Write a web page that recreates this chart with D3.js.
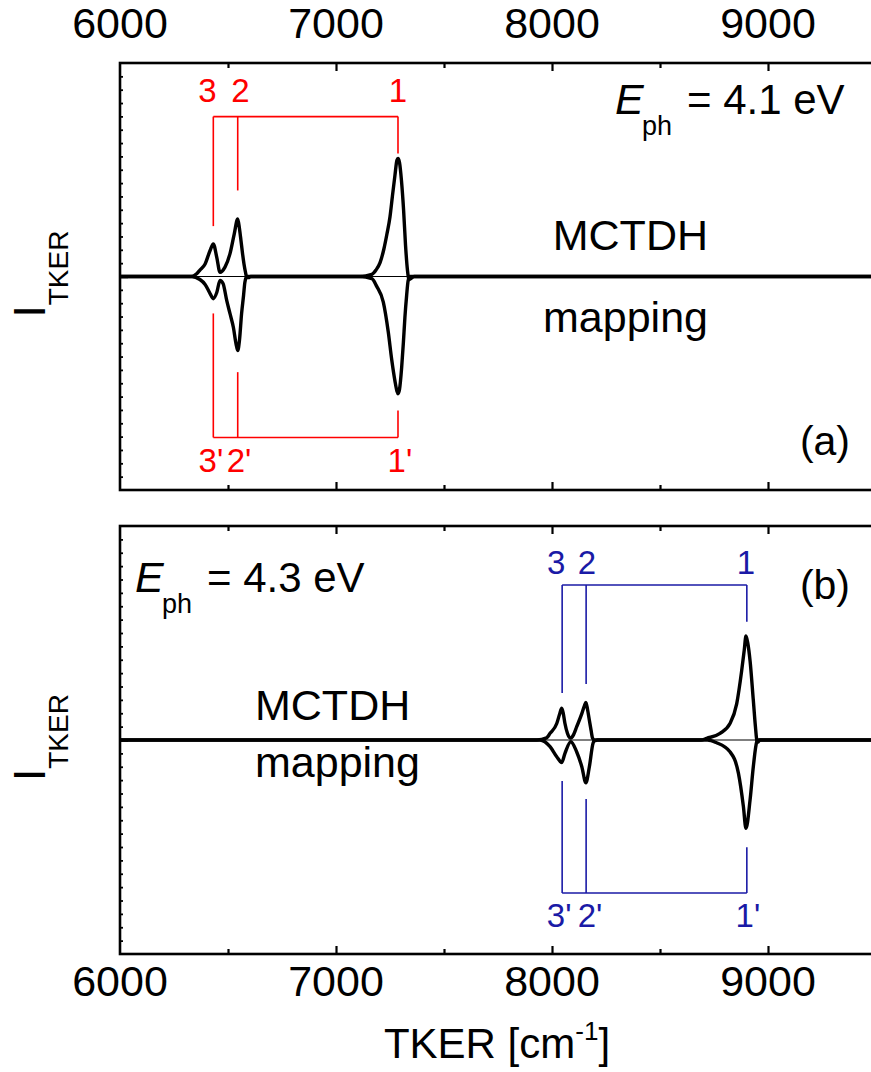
<!DOCTYPE html>
<html>
<head>
<meta charset="utf-8">
<script src="https://cdn.jsdelivr.net/npm/d3@7/dist/d3.min.js"></script>
<style>
  body { margin: 0; background: #fff; }
  svg { display: block; font-family: "Liberation Sans", Arial, sans-serif; }
</style>
</head>
<body>
<svg id="svg1" width="871" height="1072"></svg>
<script>
// TKER spectra, MCTDH (up) vs mapping (down)
var majorTicks = [6000, 7000, 8000, 9000];
var minorTicks = [6500, 7500, 8500, 9500];

var mctdhA = [[6000,0],[6330,0],[6355,0.013],[6370,0.03],[6394,0.059],[6417,0.122],[6432,0.153],[6448,0.09],[6463,0.02],
    [6486,0.044],[6509,0.106],[6529,0.2],[6545,0.27],[6553,0.225],[6560,0.169],[6567,0.11],[6574,0.059],[6581,0.02],
    [6587,-0.005],[6595,-0.005],[6605,0],[7110,0],[7166,0.01],[7185,0.03],[7204,0.065],[7222,0.13],[7236,0.2],[7250,0.28],
    [7261,0.375],[7273,0.475],[7282,0.545],[7287,0.553],[7294,0.534],[7303,0.45],[7313,0.31],[7322,0.145],[7331,0.028],
    [7338,-0.014],[7347,-0.009],[7361,0],[9500,0]];
var mappingA = [[6000,0],[6330,0],[6370,-0.014],[6394,-0.037],[6417,-0.08],[6432,-0.104],[6448,-0.075],[6463,-0.019],
    [6477,-0.033],[6494,-0.112],[6509,-0.173],[6525,-0.239],[6537,-0.314],[6545,-0.347],[6553,-0.3],[6563,-0.173],
    [6572,-0.089],[6578,-0.028],[6587,0],[7110,0],[7166,-0.01],[7188,-0.045],[7219,-0.12],[7242,-0.26],[7258,-0.39],
    [7273,-0.49],[7282,-0.536],[7287,-0.549],[7294,-0.529],[7304,-0.426],[7312,-0.309],[7319,-0.192],[7327,-0.089],
    [7334,-0.019],[7342,0],[9500,0]];

var mctdhB = [[6000,0],[7930,0],[7975,0.01],[7991,0.031],[8022,0.077],[8035,0.12],[8045,0.149],[8053,0.12],[8060,0.077],
    [8072,0.03],[8087,0.009],[8100,0.025],[8114,0.061],[8138,0.123],[8150,0.16],[8157,0.176],[8165,0.14],[8173,0.092],
    [8181,0.045],[8188,0.008],[8199,-0.003],[8210,0],[8690,0],[8716,0.008],[8778,0.031],[8824,0.077],[8855,0.169],
    [8878,0.323],[8890,0.42],[8898,0.486],[8906,0.455],[8917,0.37],[8932,0.186],[8942,0.06],[8948,0],[8953,-0.01],
    [8962,0],[9500,0]];
var mappingB = [[6000,0],[7944,0],[7991,-0.031],[8022,-0.078],[8045,-0.105],[8060,-0.062],[8087,-0.008],[8114,-0.055],
    [8138,-0.125],[8157,-0.2],[8173,-0.125],[8190,-0.015],[8200,0],[8720,0],[8760,-0.012],[8824,-0.055],[8863,-0.155],
    [8886,-0.31],[8898,-0.413],[8917,-0.28],[8932,-0.125],[8948,-0.008],[8955,0],[9500,0]];

// assignment brackets
var peakLabels = ["3", "2", "1"];
var primeLabels = ["3'", "2'", "1'"];
var peaksA = [6432, 6545, 7287];
var topEndsA = [0.236, 0.403, 0.576];
var bottomEndsA = [-0.173, -0.448, -0.628];
var levelsA = [0.749, -0.754];
var labelXA = [6405, 6558, 7287];
var primeXA = [6421, 6551, 7296];
var labelYA = [0.817, -0.916];

var peaksB = [8047, 8158, 8902];
var topEndsB = [0.22, 0.262, 0.553];
var bottomEndsB = [-0.192, -0.276, -0.501];
var levelsB = [0.724, -0.715];
var labelXB = [8019, 8162, 8898];
var primeXB = [8033, 8176, 8907];
var labelYB = [0.776, -0.874];

var marginLeft = 120;
var plotRight = 876;

var svg = d3.select('#svg1');

var x = d3.scaleLinear().domain([6000, 9500]).range([marginLeft, plotRight]);

var line = function (y) {
    return d3.line()
        .x(function (d) { return x(d[0]); })
        .y(function (d) { return y(d[1]); })
        .curve(d3.curveMonotoneX);
};

function drawPanel(top, bottom, id, opts) {
    var y = d3.scaleLinear().domain([-1, 1]).range([bottom, top]);
    var g = svg.append('g');

    g.append('clipPath').attr('id', 'clip' + id)
        .append('rect').attr('x', marginLeft).attr('y', top)
        .attr('width', plotRight - marginLeft).attr('height', bottom - top);

    var plot = g.append('g').attr('clip-path', 'url(#clip' + id + ')');

    // brackets
    var col = opts.color;
    var br = plot.append('g').attr('stroke', col).attr('stroke-width', 1.6).attr('fill', 'none');
    [0, 1].forEach(function (k) {
        var lev = opts.levels[k];
        var ends = k === 0 ? opts.topEnds : opts.bottomEnds;
        br.append('line')
            .attr('x1', x(opts.peaks[0])).attr('x2', x(opts.peaks[2]))
            .attr('y1', y(lev)).attr('y2', y(lev));
        opts.peaks.forEach(function (p, i) {
            br.append('line')
                .attr('x1', x(p)).attr('x2', x(p))
                .attr('y1', y(lev)).attr('y2', y(ends[i]));
        });
    });

    plot.selectAll('.lab').data(peakLabels).enter().append('text')
        .attr('x', function (d, i) { return x(opts.labelX[i]); })
        .attr('y', y(opts.labelY[0]))
        .attr('text-anchor', 'middle').attr('font-size', 33).attr('fill', col)
        .text(function (d) { return d; });
    plot.selectAll('.plab').data(primeLabels).enter().append('text')
        .attr('x', function (d, i) { return x(opts.primeX[i]); })
        .attr('y', y(opts.labelY[1]))
        .attr('text-anchor', 'middle').attr('font-size', 33).attr('fill', col)
        .text(function (d) { return d; });

    // thin zero line
    plot.append('line')
        .attr('x1', marginLeft).attr('x2', plotRight)
        .attr('y1', y(0)).attr('y2', y(0))
        .attr('stroke', '#000').attr('stroke-width', 1.2);

    [opts.up, opts.down].forEach(function (s) {
        plot.append('path')
            .datum(s)
            .attr('d', line(y))
            .attr('fill', 'none')
            .attr('stroke', '#000')
            .attr('stroke-width', 3.4)
            .attr('stroke-linejoin', 'round');
    });

    // frame
    g.append('rect')
        .attr('x', marginLeft).attr('y', top)
        .attr('width', plotRight - marginLeft).attr('height', bottom - top)
        .attr('fill', 'none').attr('stroke', '#000').attr('stroke-width', 2.6);

    // inward ticks, top and bottom
    var axTop = d3.axisBottom(x).tickValues(majorTicks.slice(1)).tickSize(8).tickFormat('');
    var axTopMinor = d3.axisBottom(x).tickValues(minorTicks).tickSize(5).tickFormat('');
    var axBot = d3.axisTop(x).tickValues(majorTicks.slice(1)).tickSize(8).tickFormat('');
    var axBotMinor = d3.axisTop(x).tickValues(minorTicks).tickSize(5).tickFormat('');
    [[axTop, top], [axTopMinor, top], [axBot, bottom], [axBotMinor, bottom]].forEach(function (a) {
        var t = g.append('g').attr('transform', 'translate(0,' + a[1] + ')').call(a[0]);
        t.select('.domain').remove();
        t.selectAll('line').attr('stroke-width', 2.2);
    });

    // y ticks
    var yMinor = d3.range(-15, 16).filter(function (v) { return v !== 0; }).map(function (v) { return v / 16; });
    var ay = g.append('g').attr('transform', 'translate(' + marginLeft + ',0)')
        .call(d3.axisRight(y).tickValues(yMinor).tickSize(3).tickFormat(''));
    ay.select('.domain').remove();
    ay.selectAll('line').attr('stroke-width', 1.8);
    var ay0 = g.append('g').attr('transform', 'translate(' + marginLeft + ',0)')
        .call(d3.axisRight(y).tickValues([0]).tickSize(8).tickFormat(''));
    ay0.select('.domain').remove();
    ay0.selectAll('line').attr('stroke-width', 2.4);

    // y label
    var yl = g.append('text')
        .attr('transform', 'translate(45,' + (y(0) + 41) + ') rotate(-90)')
        .attr('font-size', 44);
    yl.append('tspan').text('I');
    yl.append('tspan').attr('dy', 23).attr('font-size', 28).text('TKER');

    return y;
}

drawPanel(63, 490, 'a', {
    up: mctdhA, down: mappingA, color: '#ff0000',
    peaks: peaksA, topEnds: topEndsA, bottomEnds: bottomEndsA, levels: levelsA,
    labelX: labelXA, primeX: primeXA, labelY: labelYA
});
drawPanel(526, 954, 'b', {
    up: mctdhB, down: mappingB, color: '#1a1aa6',
    peaks: peaksB, topEnds: topEndsB, bottomEnds: bottomEndsB, levels: levelsB,
    labelX: labelXB, primeX: primeXB, labelY: labelYB
});

// tick labels top and bottom
svg.selectAll('.tt').data(majorTicks).enter().append('text')
    .attr('x', function (d) { return x(d); }).attr('y', 38)
    .attr('text-anchor', 'middle').attr('font-size', 43)
    .text(function (d) { return d; });
svg.selectAll('.tb').data(majorTicks).enter().append('text')
    .attr('x', function (d) { return x(d); }).attr('y', 996)
    .attr('text-anchor', 'middle').attr('font-size', 43)
    .text(function (d) { return d; });

var xl = svg.append('text').attr('x', 497).attr('y', 1058)
    .attr('text-anchor', 'middle').attr('font-size', 42);
xl.append('tspan').text('TKER [cm');
xl.append('tspan').attr('dy', -18).attr('font-size', 26).text('-1');
xl.append('tspan').attr('dy', 18).text(']');

// panel annotations
function ephText(xp, yp, value) {
    svg.append('text').attr('x', xp).attr('y', yp).attr('font-size', 43)
        .attr('font-style', 'italic').text('E');
    svg.append('text').attr('x', xp + 27).attr('y', yp + 21).attr('font-size', 27).text('ph');
    svg.append('text').attr('x', xp + 72).attr('y', yp).attr('font-size', 42).text('= ' + value + ' eV');
}
ephText(615, 114, '4.1');
ephText(135, 592, '4.3');

svg.append('text').attr('x', 708).attr('y', 250).attr('text-anchor', 'end').attr('font-size', 43).text('MCTDH');
svg.append('text').attr('x', 708).attr('y', 332).attr('text-anchor', 'end').attr('font-size', 43).text('mapping');
svg.append('text').attr('x', 255).attr('y', 720).attr('font-size', 43).text('MCTDH');
svg.append('text').attr('x', 255).attr('y', 777).attr('font-size', 43).text('mapping');
svg.append('text').attr('x', 850).attr('y', 455).attr('text-anchor', 'end').attr('font-size', 41).text('(a)');
svg.append('text').attr('x', 850).attr('y', 599).attr('text-anchor', 'end').attr('font-size', 41).text('(b)');
</script>
</body>
</html>
